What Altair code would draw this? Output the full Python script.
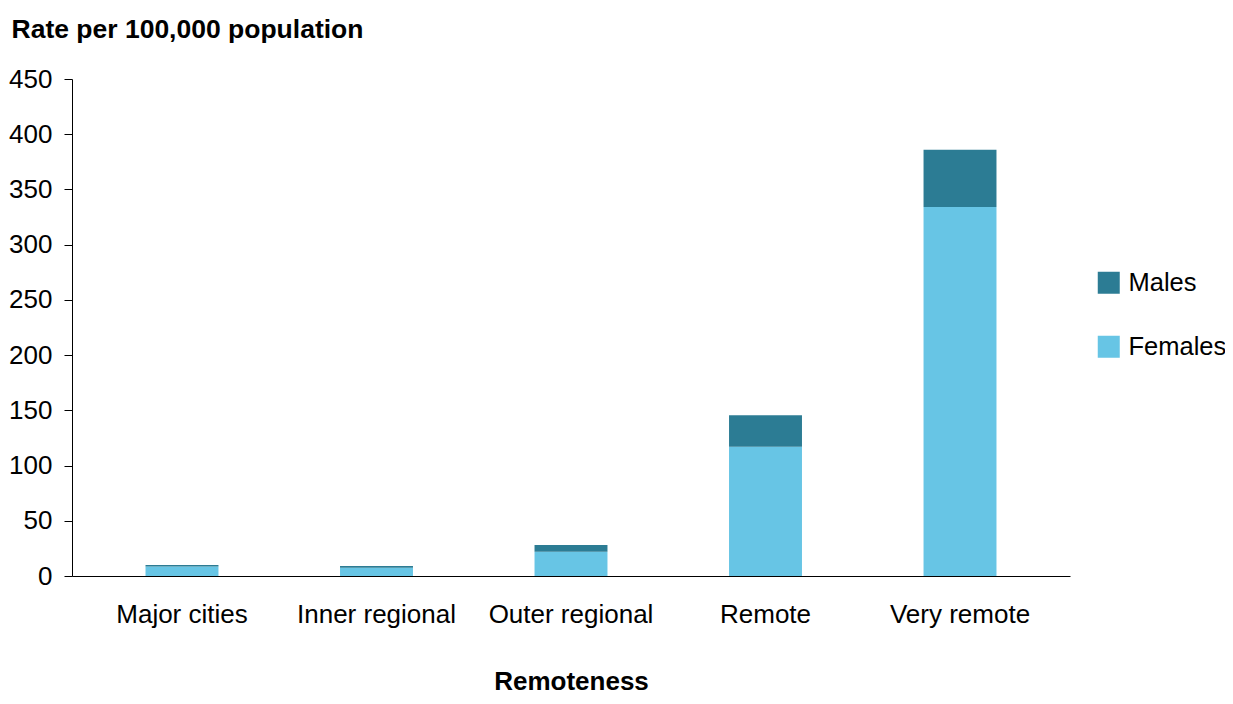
import altair as alt
import pandas as pd

categories = ["Major cities", "Inner regional", "Outer regional", "Remote", "Very remote"]
females = [8.5, 7.5, 22, 117, 334]
males = [1.5, 1.5, 6, 28.5, 52]
series = ["Males", "Females"]
colors = ["#2C7C94", "#67C5E5"]
y_ticks = [0, 50, 100, 150, 200, 250, 300, 350, 400, 450]

rows = []
for c, f, m in zip(categories, females, males):
    rows.append({"Remoteness": c, "Sex": "Females", "Rate": f, "ord": 0})
    rows.append({"Remoteness": c, "Sex": "Males", "Rate": m, "ord": 1})
df = pd.DataFrame(rows)

FONT = "Liberation Sans"

chart = alt.Chart(df).mark_bar().encode(
    x=alt.X("Remoteness:N", sort=categories,
            scale=alt.Scale(paddingInner=0.625, paddingOuter=0.378),
            axis=alt.Axis(title="Remoteness", labelAngle=0, ticks=False, tickSize=0,
                          labelPadding=25, labelFontSize=26, labelFont=FONT, labelColor="#000",
                          titleFont=FONT, titleFontSize=26, titleFontWeight="bold", titleColor="#000",
                          titleBaseline="alphabetic", titleY=113,
                          domainColor="#000", domainWidth=1)),
    y=alt.Y("Rate:Q", stack="zero",
            scale=alt.Scale(domain=[0, 450], nice=False),
            axis=alt.Axis(title="Rate per 100,000 population", values=y_ticks, grid=False,
                          tickSize=8, tickColor="#000", tickWidth=1, labelPadding=12,
                          labelFontSize=26, labelFont=FONT, labelColor="#000",
                          domainColor="#000", domainWidth=1,
                          titleFont=FONT, titleFontSize=26.5, titleFontWeight="bold", titleColor="#000",
                          titleAngle=0, titleAlign="left", titleBaseline="alphabetic",
                          titleX=-61, titleY=-42)),
    color=alt.Color("Sex:N", scale=alt.Scale(domain=series, range=colors),
                    legend=alt.Legend(title=None, orient="none", legendX=1024, legendY=191,
                                      symbolType="square", symbolSize=484, symbolStrokeWidth=0,
                                      labelFontSize=25.5, labelFont=FONT, labelColor="#000",
                                      labelOffset=7, rowPadding=37)),
    order=alt.Order("ord:Q", sort="ascending"),
).properties(
    width=998, height=497,
    autosize=alt.AutoSizeParams(type="none"),
    padding={"left": 64, "top": 71, "right": 155, "bottom": 120},
).configure_view(stroke=None)

chart.save("out.html", embed_options={"renderer": "svg", "actions": False})
